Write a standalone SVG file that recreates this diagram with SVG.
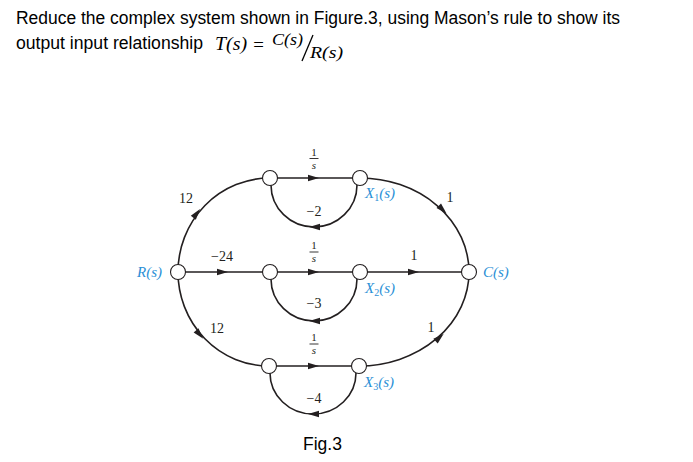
<svg xmlns="http://www.w3.org/2000/svg" xmlns:xlink="http://www.w3.org/1999/xlink" width="693" height="462" viewBox="0 0 693 462">
<style>
.t{font-family:"Liberation Sans",Arial,sans-serif;font-size:17.5px;fill:#000}
.m{font-family:"Liberation Serif","Times New Roman",serif;font-style:italic;fill:#000}
.lb{font-family:"Liberation Serif","Times New Roman",serif;font-size:14px;fill:#231f20}
.bl{font-family:"Liberation Serif","Times New Roman",serif;font-style:italic;font-size:15px;fill:#2b8fd6}
.e{fill:none;stroke:#231f20;stroke-width:1.6}
.n{fill:#fff;stroke:#231f20;stroke-width:1.1}
.ah{fill:#231f20}
</style>
<defs>
<path id="ah" class="ah" d="M5,0 L-6,-3.2 L-6,3.2 Z"/>
</defs>
<rect width="693" height="462" fill="#fff"/>
<g id="title">
<text class="t" x="16" y="24" textLength="604" lengthAdjust="spacingAndGlyphs">Reduce the complex system shown in Figure.3, using Mason’s rule to show its</text>
<text class="t" x="16" y="49" textLength="187" lengthAdjust="spacingAndGlyphs">output input relationship</text>
<text class="m" x="215" y="50" font-size="19" textLength="32" lengthAdjust="spacingAndGlyphs">T(s)</text>
<text class="m" x="252" y="51" font-size="19" font-style="normal">=</text>
<text class="m" x="272" y="45" font-size="17" textLength="31" lengthAdjust="spacingAndGlyphs">C(s)</text>
<line x1="302" y1="61" x2="313" y2="35" stroke="#000" stroke-width="1.3"/>
<text class="m" x="310" y="58" font-size="17" textLength="33" lengthAdjust="spacingAndGlyphs">R(s)</text>
</g>
<g id="connectors">
<path class="e" d="M178,272 A92,94 0 0 1 270,178"/>
<path class="e" d="M360,178 A109,94 0 0 1 469,272"/>
<path class="e" d="M178,272 A91,94 0 0 0 269,366"/>
<path class="e" d="M359,366 A110,94 0 0 0 469,272"/>
<path class="e" d="M270,178 L360,178"/>
<path class="e" d="M178,272 L469,272"/>
<path class="e" d="M269,366 L359,366"/>
<path class="e" d="M357,185 A43,42 0 0 1 271,185"/>
<path class="e" d="M357,279 A43,42 0 0 1 271,279"/>
<path class="e" d="M356,373 A43,41 0 0 1 270,373"/>
<use xlink:href="#ah" transform="translate(314,178)"/>
<use xlink:href="#ah" transform="translate(223,272)"/>
<use xlink:href="#ah" transform="translate(314,272)"/>
<use xlink:href="#ah" transform="translate(414,272)"/>
<use xlink:href="#ah" transform="translate(314,366)"/>
<use xlink:href="#ah" transform="translate(314,227) rotate(180)"/>
<use xlink:href="#ah" transform="translate(314,321) rotate(180)"/>
<use xlink:href="#ah" transform="translate(313,414) rotate(180)"/>
<use xlink:href="#ah" transform="translate(197,213) rotate(-52)"/>
<use xlink:href="#ah" transform="translate(443,210) rotate(45)"/>
<use xlink:href="#ah" transform="translate(200,335) rotate(49)"/>
<use xlink:href="#ah" transform="translate(440,337) rotate(-42)"/>
</g>
<g id="labels">
<text class="lb" x="186" y="203" text-anchor="middle">12</text>
<text class="lb" x="314" y="216" text-anchor="middle">−2</text>
<text class="lb" x="222" y="261" text-anchor="middle">−24</text>
<text class="lb" x="314" y="308" text-anchor="middle">−3</text>
<text class="lb" x="217" y="333" text-anchor="middle">12</text>
<text class="lb" x="314" y="403" text-anchor="middle">−4</text>
<text class="lb" x="450" y="202" text-anchor="middle">1</text>
<text class="lb" x="414" y="260" text-anchor="middle">1</text>
<text class="lb" x="431" y="332" text-anchor="middle">1</text>
<g font-family="Liberation Serif,serif" font-size="11" fill="#231f20" text-anchor="middle">
<text x="314" y="155.5">1</text><line x1="309.5" y1="158.5" x2="318.5" y2="158.5" stroke="#231f20" stroke-width="0.9"/><text x="314" y="168.5" font-style="italic">s</text>
<text x="314" y="248.5">1</text><line x1="309.5" y1="252" x2="318.5" y2="252" stroke="#231f20" stroke-width="0.9"/><text x="314" y="261.5" font-style="italic">s</text>
<text x="314" y="340.5">1</text><line x1="309.5" y1="344" x2="318.5" y2="344" stroke="#231f20" stroke-width="0.9"/><text x="314" y="353.5" font-style="italic">s</text>
</g>
</g>
<g id="node-R"><circle class="n" cx="178" cy="272" r="7.5"/><text class="bl" x="137" y="277">R(s)</text></g>
<g id="node-A1"><circle class="n" cx="270" cy="178" r="7.5"/></g>
<g id="node-X1"><circle class="n" cx="360" cy="178" r="7.5"/><text class="bl" x="365" y="198">X<tspan font-size="10" font-style="normal" dy="3">1</tspan><tspan dy="-3">(s)</tspan></text></g>
<g id="node-A2"><circle class="n" cx="270" cy="272" r="7.5"/></g>
<g id="node-X2"><circle class="n" cx="360" cy="272" r="7.5"/><text class="bl" x="365" y="293">X<tspan font-size="10" font-style="normal" dy="3">2</tspan><tspan dy="-3">(s)</tspan></text></g>
<g id="node-A3"><circle class="n" cx="269" cy="366" r="7.5"/></g>
<g id="node-X3"><circle class="n" cx="359" cy="366" r="7.5"/><text class="bl" x="364" y="387">X<tspan font-size="10" font-style="normal" dy="3">3</tspan><tspan dy="-3">(s)</tspan></text></g>
<g id="node-C"><circle class="n" cx="469" cy="272" r="7.5"/><text class="bl" x="483" y="277">C(s)</text></g>
<text class="t" x="303" y="450" font-size="16.5">Fig.3</text>
</svg>
